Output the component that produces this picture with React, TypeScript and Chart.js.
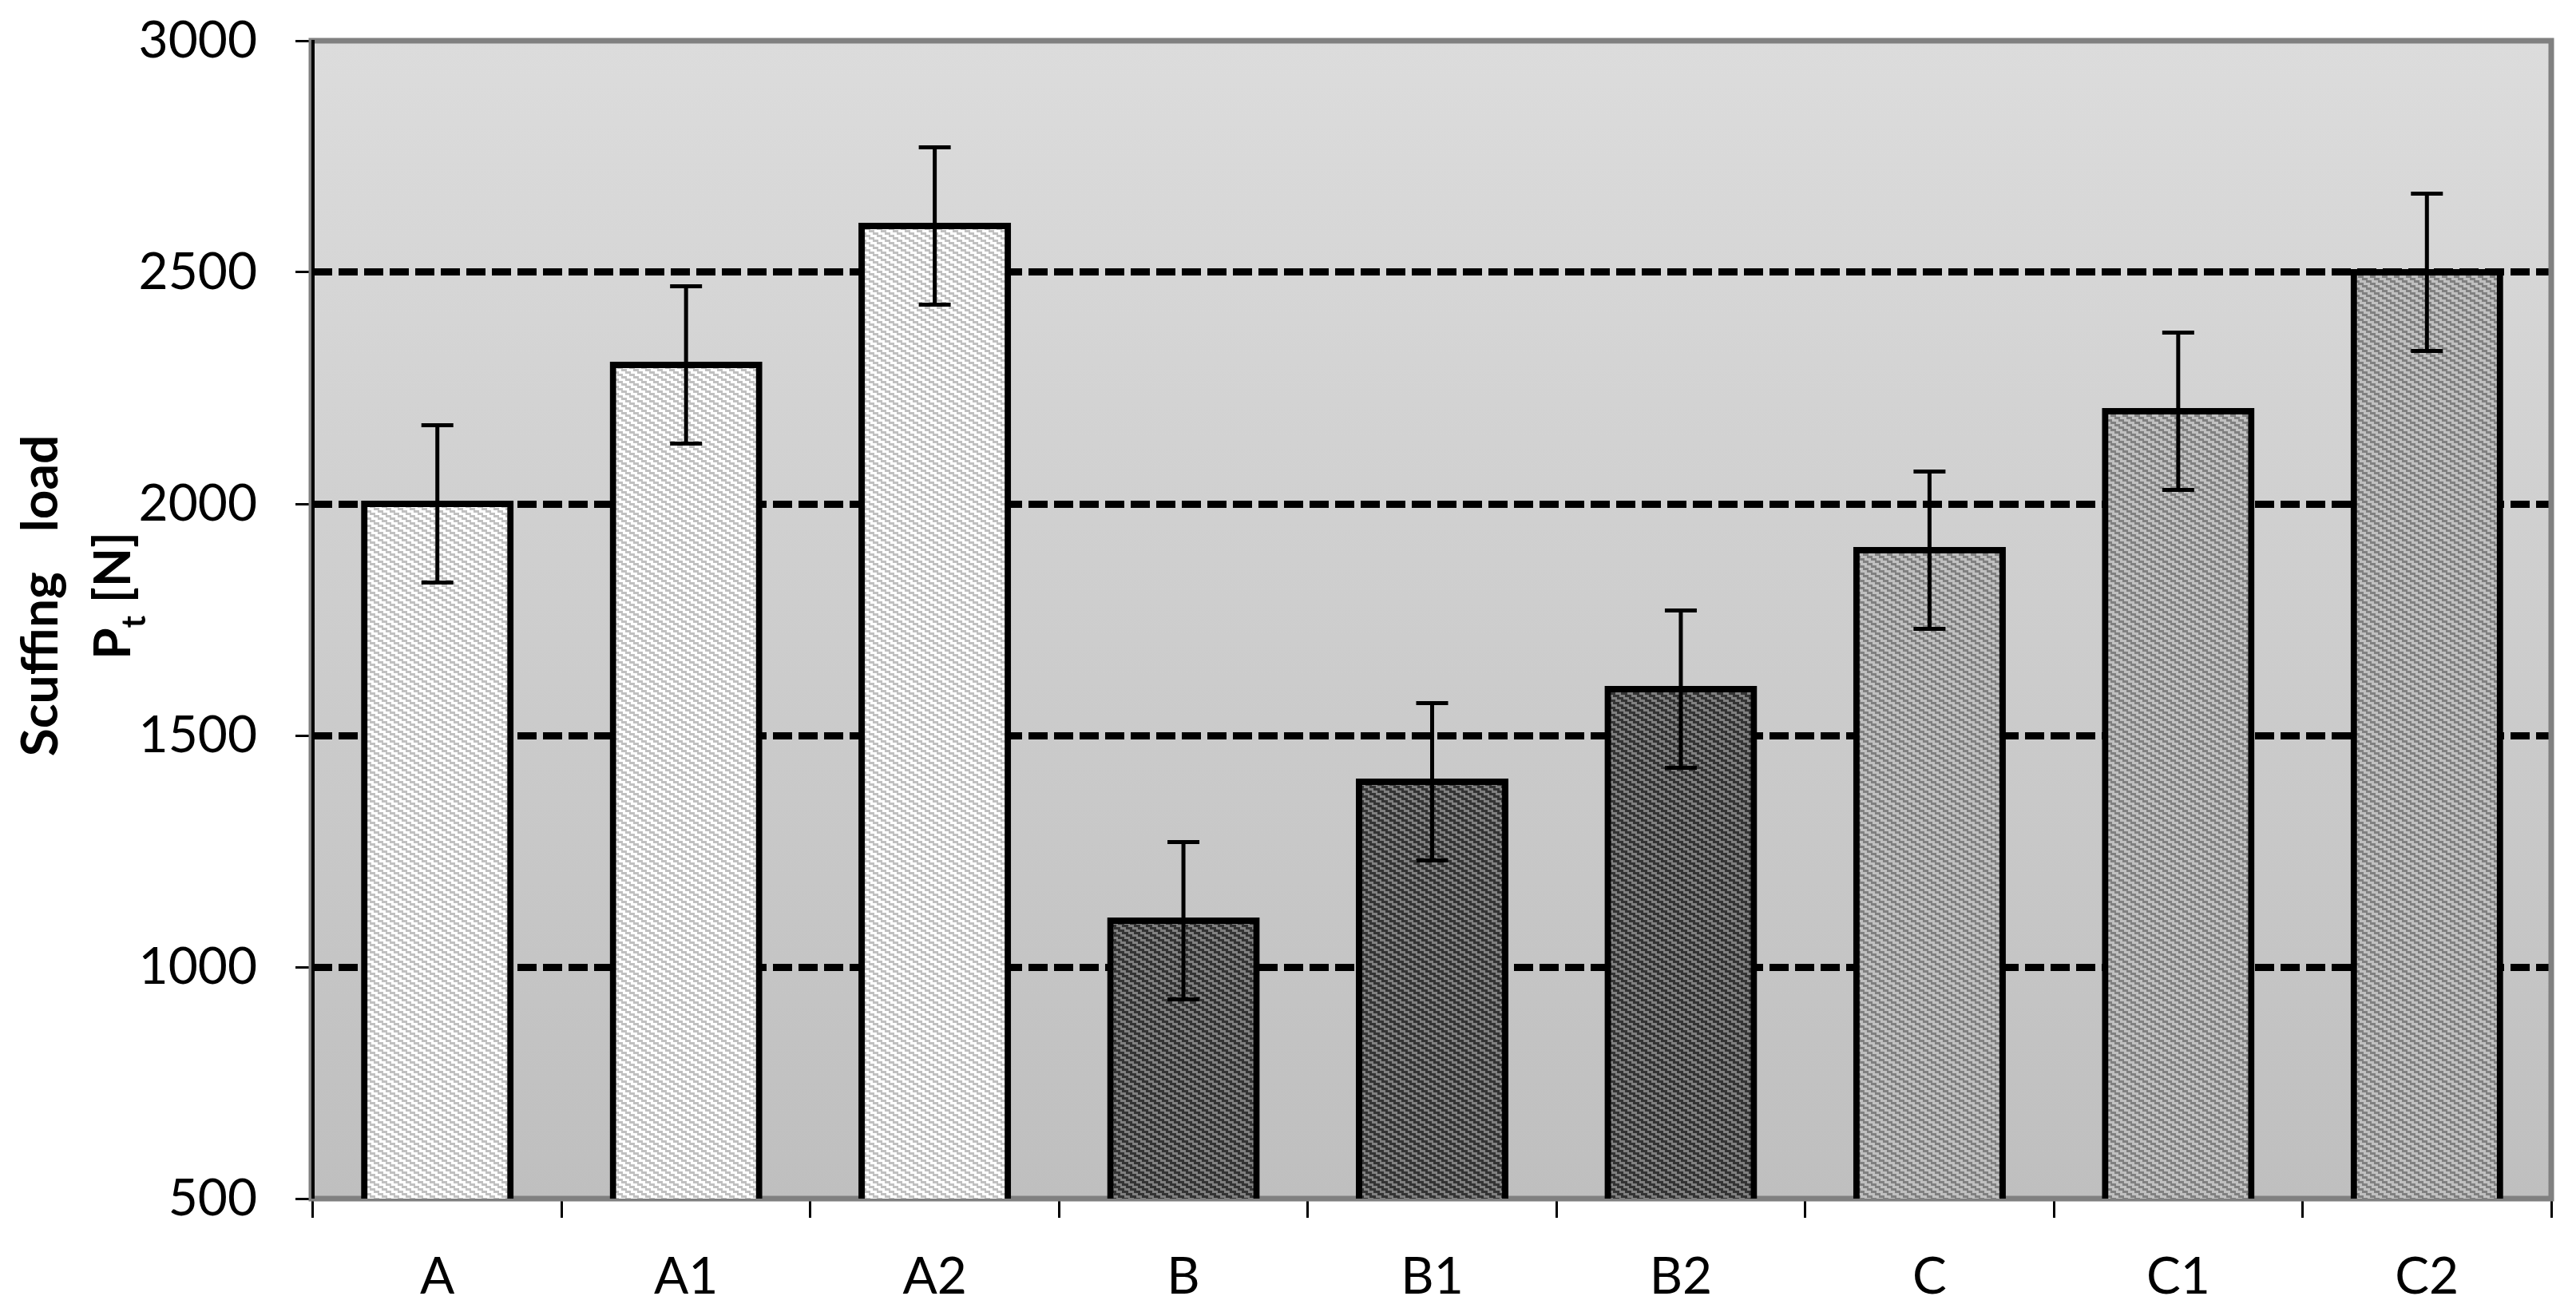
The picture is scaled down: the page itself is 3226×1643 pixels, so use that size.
import React, { useEffect, useRef } from 'react';
import { Chart, registerables } from 'chart.js';

Chart.register(...registerables);

// ---- data ----
const categories = ['A', 'A1', 'A2', 'B', 'B1', 'B2', 'C', 'C1', 'C2'];
const scuffingLoad = [2000, 2300, 2600, 1100, 1400, 1600, 1900, 2200, 2500];
const errorPlusMinus = [170, 170, 170, 170, 170, 170, 170, 170, 170];
const barGroup = ['A', 'A', 'A', 'B', 'B', 'B', 'C', 'C', 'C'];
const yMin = 500;
const yMax = 3000;
const yStep = 500;
const dashedGridValues = [1000, 1500, 2000, 2500];
const yTitleWords = ['Scuffing', 'load'];
const yTitleSecond = { main: 'P', sub: 't', rest: ' [N]' };

// ---- styles ----
const W = 3226;
const H = 1643;
const groupStripeColors: Record<string, [string, string]> = {
  A: ['#ffffff', '#c0c0c0'],
  B: ['#333333', '#808080'],
  C: ['#c0c0c0', '#808080'],
};

function makeStripePattern(c1: string, c2: string): CanvasPattern | string {
  const tile = document.createElement('canvas');
  const tw = 15;
  const th = 9;
  tile.width = tw;
  tile.height = th;
  const tctx = tile.getContext('2d');
  if (!tctx) return c1;
  for (let y = 0; y < th; y++) {
    const shift = Math.floor(y / 3) * 5;
    for (let x = 0; x < tw; x++) {
      const v = (((x - shift) % tw) + tw) % tw;
      tctx.fillStyle = v < 7.5 ? c1 : c2;
      tctx.fillRect(x, y, 1, 1);
    }
  }
  return tctx.createPattern(tile, 'repeat') ?? c1;
}

const backgroundPlugin = {
  id: 'plotBackground',
  beforeDraw(chart: any) {
    const { ctx, chartArea } = chart;
    const { left, top, right, bottom } = chartArea;
    const g = ctx.createLinearGradient(0, top, 0, bottom);
    g.addColorStop(0, '#dcdcdc');
    g.addColorStop(1, '#bfbfbf');
    ctx.save();
    ctx.fillStyle = g;
    ctx.fillRect(left, top, right - left, bottom - top);
    ctx.restore();
  },
};

const framePlugin = {
  id: 'plotFrame',
  beforeDatasetsDraw(chart: any) {
    const { ctx, chartArea } = chart;
    const { left, top, right, bottom } = chartArea;
    ctx.save();
    ctx.strokeStyle = '#808080';
    ctx.lineWidth = 7;
    ctx.strokeRect(left - 2, top, right - left + 2, bottom - top);
    ctx.strokeStyle = '#000000';
    ctx.lineWidth = 4;
    ctx.beginPath();
    ctx.moveTo(left, top - 1);
    ctx.lineTo(left, bottom);
    ctx.stroke();
    ctx.restore();
  },
};

const errorBarPlugin = {
  id: 'errorBars',
  afterDatasetsDraw(chart: any) {
    const { ctx } = chart;
    const meta = chart.getDatasetMeta(0);
    const yScale = chart.scales.y;
    ctx.save();
    ctx.strokeStyle = '#000000';
    ctx.lineWidth = 5;
    ctx.lineCap = 'butt';
    meta.data.forEach((bar: any, i: number) => {
      const v = scuffingLoad[i];
      const e = errorPlusMinus[i];
      const x = bar.x;
      const yTop = yScale.getPixelForValue(v + e);
      const yBot = yScale.getPixelForValue(v - e);
      const half = 20;
      ctx.beginPath();
      ctx.moveTo(x, yTop);
      ctx.lineTo(x, yBot);
      ctx.moveTo(x - half, yTop);
      ctx.lineTo(x + half, yTop);
      ctx.moveTo(x - half, yBot);
      ctx.lineTo(x + half, yBot);
      ctx.stroke();
    });
    ctx.restore();
  },
};

const yTitlePlugin = {
  id: 'yTitle',
  afterDraw(chart: any) {
    const { ctx } = chart;
    const centerY = 746;
    ctx.save();
    ctx.fillStyle = '#000000';
    ctx.textBaseline = 'alphabetic';
    ctx.textAlign = 'left';

    // line 1
    ctx.save();
    ctx.translate(72, centerY);
    ctx.rotate(-Math.PI / 2);
    ctx.font = 'bold 64px Lato';
    const gap = 50;
    const w1 = ctx.measureText(yTitleWords[0]).width;
    const w2 = ctx.measureText(yTitleWords[1]).width;
    const total = w1 + gap + w2;
    ctx.fillText(yTitleWords[0], -total / 2, 0);
    ctx.fillText(yTitleWords[1], -total / 2 + w1 + gap, 0);
    ctx.restore();

    // line 2
    ctx.save();
    ctx.translate(163, centerY);
    ctx.rotate(-Math.PI / 2);
    ctx.font = 'bold 64px Lato';
    const pw = ctx.measureText(yTitleSecond.main).width;
    const rw = ctx.measureText(yTitleSecond.rest).width;
    ctx.font = 'bold 42px Lato';
    const sw = ctx.measureText(yTitleSecond.sub).width;
    const tot2 = pw + sw + rw;
    let x0 = -tot2 / 2;
    ctx.font = 'bold 64px Lato';
    ctx.fillText(yTitleSecond.main, x0, 0);
    x0 += pw;
    ctx.font = 'bold 42px Lato';
    ctx.fillText(yTitleSecond.sub, x0, 19);
    x0 += sw;
    ctx.font = 'bold 64px Lato';
    ctx.fillText(yTitleSecond.rest, x0, 0);
    ctx.restore();

    ctx.restore();
  },
};

export default function App() {
  const canvasRef = useRef<HTMLCanvasElement | null>(null);

  useEffect(() => {
    const canvas = canvasRef.current;
    if (!canvas) return;
    const patterns = barGroup.map((g) => {
      const [c1, c2] = groupStripeColors[g];
      return makeStripePattern(c1, c2);
    });

    const chart = new Chart(canvas, {
      type: 'bar',
      data: {
        labels: categories,
        datasets: [
          {
            data: scuffingLoad,
            backgroundColor: patterns as any,
            borderColor: '#000000',
            borderWidth: 8,
            borderSkipped: false,
            inflateAmount: 4,
            barPercentage: 0.588,
            categoryPercentage: 1.0,
          } as any,
        ],
      },
      options: {
        animation: false,
        responsive: false,
        devicePixelRatio: 1,
        layout: { padding: { top: 51, right: 31, left: 0, bottom: 0 } },
        plugins: {
          legend: { display: false },
          tooltip: { enabled: false },
          title: { display: false },
        },
        scales: {
          x: {
            type: 'category',
            offset: true,
            grid: {
              display: true,
              offset: true,
              drawOnChartArea: false,
              drawTicks: true,
              tickLength: 24,
              tickWidth: 3,
              tickColor: '#000000',
            },
            border: { display: false },
            ticks: {
              color: '#000000',
              font: { family: 'Lato', size: 64 },
              padding: 36,
              maxRotation: 0,
              autoSkip: false,
            },
            afterFit(scale: any) {
              scale.height = 142;
              scale.paddingLeft = 0;
              scale.paddingRight = 0;
            },
          },
          y: {
            min: yMin,
            max: yMax,
            grid: {
              display: true,
              drawOnChartArea: true,
              drawTicks: true,
              tickLength: 22,
              tickWidth: 3,
              tickColor: '#000000',
              lineWidth: 9,
              color: (ctx: any) =>
                ctx.tick && dashedGridValues.includes(ctx.tick.value) ? '#000000' : 'rgba(0,0,0,0)',
            },
            border: { display: false, dash: [24, 8] },
            ticks: {
              stepSize: yStep,
              color: '#000000',
              font: { family: 'Lato', size: 64 },
              padding: 48,
              callback: (v: any) => String(v),
            },
            afterFit(scale: any) {
              scale.width = 392;
              scale.paddingTop = 0;
              scale.paddingBottom = 0;
            },
          },
        },
      },
      plugins: [backgroundPlugin, framePlugin, errorBarPlugin, yTitlePlugin],
    });

    return () => {
      chart.destroy();
    };
  }, []);

  return (
    <div style={{ position: 'fixed', left: 0, top: 0, width: W, height: H, background: '#ffffff' }}>
      <canvas ref={canvasRef} width={W} height={H} style={{ display: 'block', width: W, height: H }} />
    </div>
  );
}
